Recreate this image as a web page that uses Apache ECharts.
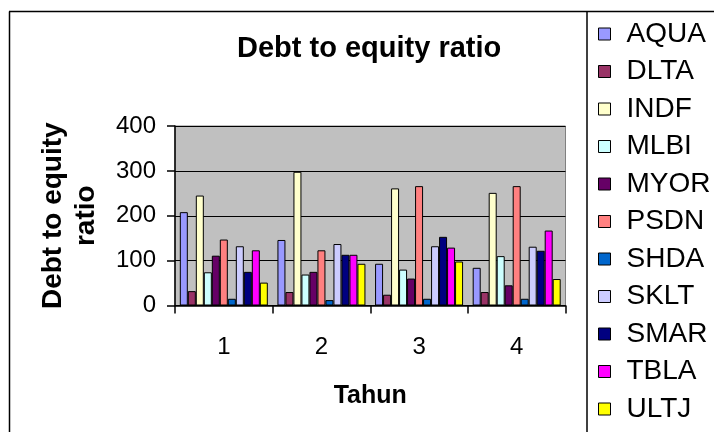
<!DOCTYPE html>
<html>
<head>
<meta charset="utf-8">
<script src="https://cdn.jsdelivr.net/npm/echarts@6/dist/echarts.min.js"></script>
<style>
html,body{margin:0;padding:0;background:#fff;}
#chart{width:714px;height:432px;}
</style>
</head>
<body>
<div id="chart"></div>
<script>
var categories = ['1', '2', '3', '4'];
var seriesNames = ['AQUA','DLTA','INDF','MLBI','MYOR','PSDN','SHDA','SKLT','SMAR','TBLA','ULTJ'];
var AQUA = [208, 146, 93, 84];
var DLTA = [32, 30, 24, 30];
var INDF = [245, 298, 261, 251];
var MLBI = [74, 69, 80, 110];
var MYOR = [111, 75, 60, 45];
var PSDN = [147, 123, 266, 266];
var SHDA = [15, 12, 15, 15];
var SKLT = [132, 137, 132, 131];
var SMAR = [75, 113, 153, 122];
var TBLA = [123, 113, 129, 167];
var ULTJ = [51, 93, 98, 59];
var yTicks = [0, 100, 200, 300, 400];
var colors = ['#9999FF','#993366','#FFFFCC','#CCFFFF','#660066','#FF8080','#0066CC','#CCCCFF','#000080','#FF00FF','#FFFF00'];

var values = [AQUA, DLTA, INDF, MLBI, MYOR, PSDN, SHDA, SKLT, SMAR, TBLA, ULTJ];
var FONT = '"Liberation Sans", Arial, sans-serif';

var series = seriesNames.map(function (n, i) {
  return {
    name: n,
    type: 'bar',
    data: values[i],
    barWidth: 8,
    barGap: '0%',
    itemStyle: { color: colors[i], borderColor: '#000', borderWidth: 1 }
  };
});

var chart = echarts.init(document.getElementById('chart'), null, { renderer: 'canvas' });
chart.setOption({
  animation: false,
  backgroundColor: '#fff',
  color: colors,
  title: {
    text: 'Debt to equity ratio',
    left: 237,
    top: 34,
    padding: 0,
    textStyle: { fontFamily: FONT, fontSize: 29, fontWeight: 'bold', color: '#000' }
  },
  legend: {
    orient: 'vertical',
    left: 598,
    top: 20,
    padding: 0,
    itemWidth: 12,
    itemHeight: 12,
    itemGap: 9.5,
    icon: 'rect',
    data: seriesNames,
    itemStyle: { borderColor: '#000', borderWidth: 1 },
    textStyle: { fontFamily: FONT, fontSize: 28, color: '#000', padding: [0, 0, 0, 11] }
  },
  grid: {
    left: 175,
    top: 126,
    right: 148.5,
    bottom: 126.5,
    show: true,
    backgroundColor: '#C0C0C0',
    borderColor: '#808080',
    borderWidth: 1
  },
  xAxis: {
    type: 'category',
    data: categories,
    boundaryGap: true,
    name: 'Tahun',
    nameLocation: 'middle',
    nameGap: 78,
    nameTextStyle: { fontFamily: FONT, fontSize: 25, fontWeight: 'bold', color: '#000' },
    axisLine: { lineStyle: { color: '#000', width: 1.5 } },
    axisTick: { show: true, length: 8, alignWithLabel: false, lineStyle: { color: '#000', width: 1.5 } },
    axisLabel: { margin: 30, fontFamily: FONT, fontSize: 24, color: '#000' },
    splitLine: { show: false }
  },
  yAxis: {
    type: 'value',
    min: yTicks[0],
    max: yTicks[yTicks.length - 1],
    interval: 100,
    name: 'Debt to equity\nratio',
    nameLocation: 'middle',
    nameGap: 72,
    nameRotate: 90,
    nameTextStyle: { fontFamily: FONT, fontSize: 28, fontWeight: 'bold', color: '#000', lineHeight: 33 },
    axisLine: { show: true, lineStyle: { color: '#000', width: 1.5 } },
    axisTick: { show: true, length: 8, lineStyle: { color: '#000', width: 1.5 } },
    axisLabel: { margin: 19, fontFamily: FONT, fontSize: 24, color: '#000' },
    splitLine: { show: true, lineStyle: { color: '#000', width: 1 } }
  },
  graphic: [
    { type: 'line', shape: { x1: 9.5, y1: 11.5, x2: 9.5, y2: 440 }, style: { stroke: '#000', lineWidth: 1.5 } },
    { type: 'line', shape: { x1: 9, y1: 11.5, x2: 720, y2: 11.5 }, style: { stroke: '#000', lineWidth: 1.5 } },
    { type: 'line', shape: { x1: 587, y1: 11.5, x2: 587, y2: 440 }, style: { stroke: '#000', lineWidth: 1.5 } }
  ],
  series: series
});
</script>
</body>
</html>
